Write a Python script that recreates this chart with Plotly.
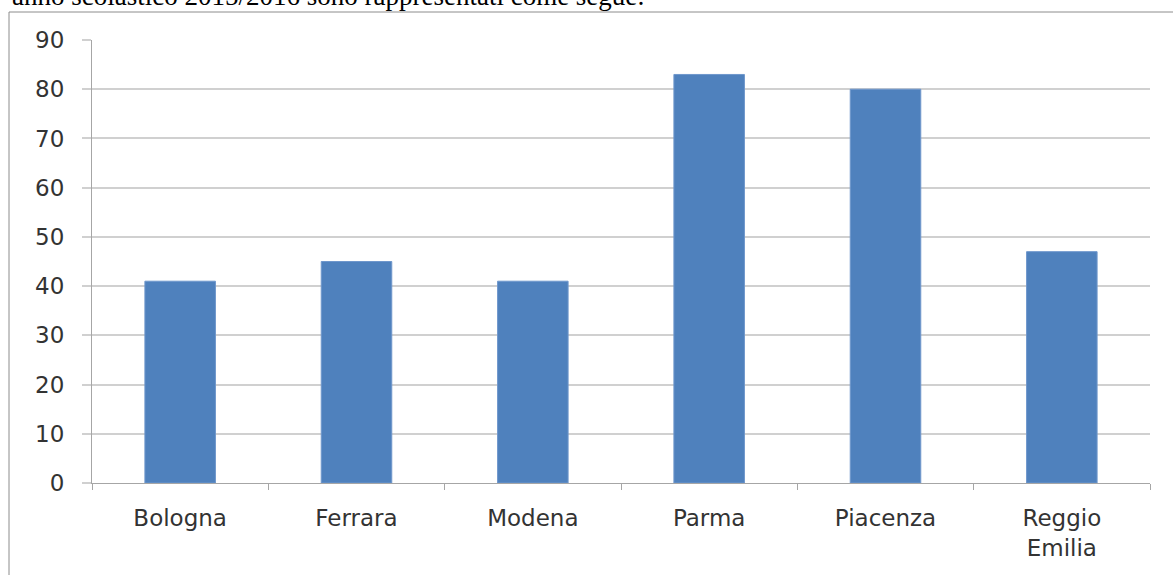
import plotly.graph_objects as go

categories = ["Bologna", "Ferrara", "Modena", "Parma", "Piacenza", "Reggio<br>Emilia"]
values = [41, 45, 41, 83, 80, 47]
y_ticks = [0, 10, 20, 30, 40, 50, 60, 70, 80, 90]
caption = "anno scolastico 2015/2016 sono rappresentati come segue:"

W, H = 1173, 575
L, R, T, B = 92, W - 1150, 40, H - 483
pw, ph = W - L - R, H - T - B

def px(x):
    return (x - L) / pw

def py(y):
    return (H - B - y) / ph

fig = go.Figure()
fig.add_trace(go.Bar(
    x=categories, y=values,
    marker=dict(color="#4f81bd", line=dict(color="#6f97cc", width=1)),
    width=0.4,
))

fig.update_layout(
    width=W, height=H,
    margin=dict(l=L, r=R, t=T, b=B, pad=0),
    paper_bgcolor="white", plot_bgcolor="white",
    showlegend=False,
    font=dict(family="DejaVu Sans", size=23, color="#333333"),
    xaxis=dict(
        showgrid=False, showline=True, linecolor="#a6a6a6", linewidth=1,
        ticks="outside", tickson="boundaries", ticklen=6, tickcolor="#a6a6a6",
        ticklabelstandoff=14, range=[-0.5, 5.5],
    ),
    yaxis=dict(
        range=[0, 90], tickvals=y_ticks, showgrid=True, gridcolor="#d0d0d0", gridwidth=2,
        showline=True, linecolor="#a6a6a6", linewidth=1,
        ticks="outside", ticklen=9, tickcolor="#d0d0d0", tickwidth=2,
        ticklabelstandoff=13, zeroline=False,
    ),
    shapes=[dict(
        type="rect", xref="paper", yref="paper",
        x0=px(9), x1=px(1190), y0=py(600), y1=py(12),
        line=dict(color="#8c8c8c", width=1), fillcolor="rgba(0,0,0,0)", layer="below",
    )],
    annotations=[dict(
        text=caption, xref="paper", yref="paper",
        x=px(10), y=py(13), xanchor="left", yanchor="bottom",
        showarrow=False, font=dict(family="Liberation Serif", size=27, color="#000000"),
    )],
)

fig.write_html("out.html")
